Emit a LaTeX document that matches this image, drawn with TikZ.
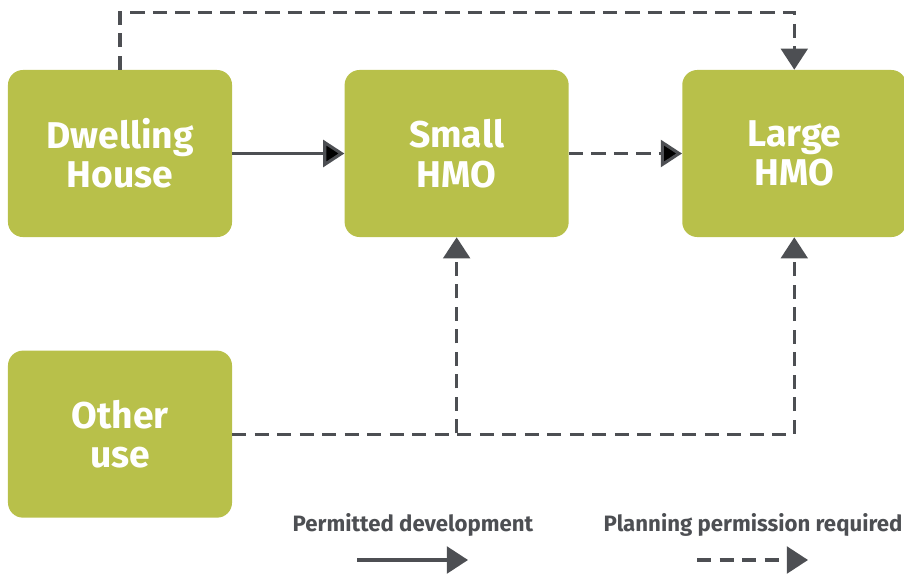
\documentclass[tikz,border=0pt]{standalone}
\usepackage{fontspec}
\setmainfont{Fira Sans}
\usetikzlibrary{arrows.meta, positioning}
\definecolor{usegreen}{HTML}{B8C04A}
\definecolor{linegrey}{HTML}{4D4F53}
\tikzstyle{usebox}=[rectangle, rounded corners=0.375cm, fill=usegreen, text=white,
  minimum width=5.6cm, minimum height=4.175cm, inner sep=0pt, align=center,
  font=\fontsize{26.5}{28}\selectfont\bfseries]
\tikzstyle{route}=[draw=linegrey, line width=2.2pt, -{Triangle[length=15pt, width=19pt]}]
\tikzstyle{permitted}=[route]
\tikzstyle{planning}=[route, dash pattern=on 10pt off 6pt]
\tikzstyle{keytext}=[text=linegrey, font=\fontsize{15.8}{18}\selectfont\bfseries]

\begin{document}
\begin{tikzpicture}[x=0.025cm, y=-0.025cm]
  \useasboundingbox (0,0) rectangle (904,574);
  \node[usebox] (dwell) at (120,153.5) {Dwelling\\House};
  \node[usebox] (small) [right=2.8cm of dwell] {Small\\HMO};
  \node[usebox] (large) [right=2.825cm of small] {Large\\HMO};
  \node[usebox] (other) [below=2.825cm of dwell] {Other\\use};
  \path[permitted] (dwell) edge (small);
  \path[planning] (small) edge (large);
  \draw[planning] (dwell.north) -- ++(0,-57) -| (large.north);
  \draw[planning] (other.east) -| (small.south);
  \draw[planning] (other.east) -| (large.south);
  % key
  \node[keytext] (pdtext) at (413,525) {Permitted development};
  \node[keytext] (pptext) at (753,525) {Planning permission required};
  \coordinate (pdstart) at (357,560);
  \coordinate (pdend) at (468,560);
  \coordinate (ppstart) at (697,560);
  \coordinate (ppend) at (808,560);
  \draw[permitted] (pdstart) -- (pdend);
  \draw[planning] (ppstart) -- (ppend);
\end{tikzpicture}
\end{document}
